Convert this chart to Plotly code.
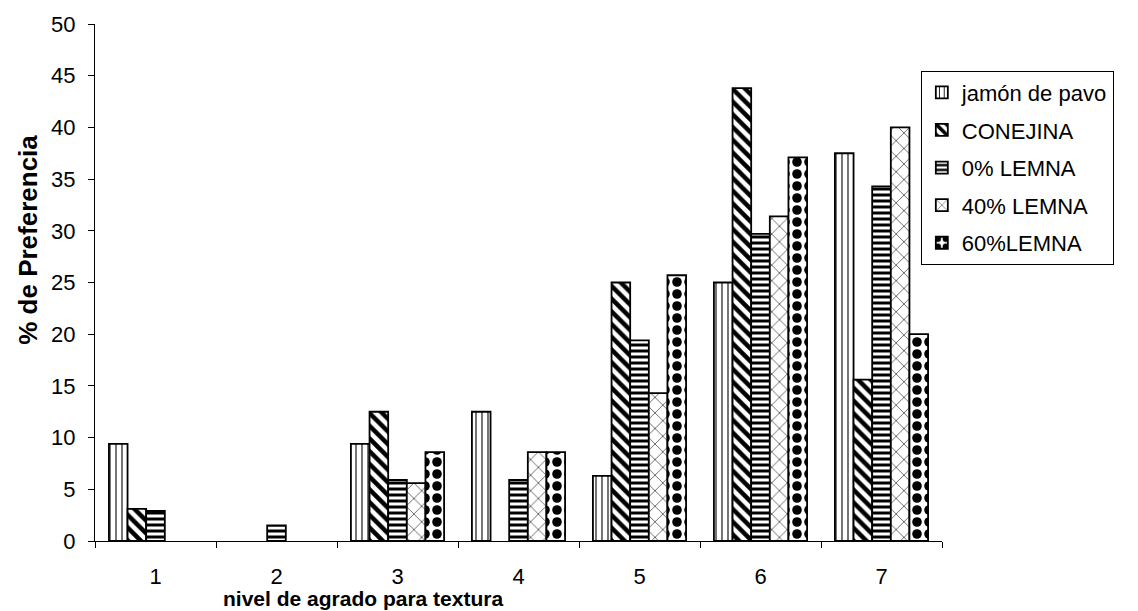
import plotly.graph_objects as go

categorias = ["1", "2", "3", "4", "5", "6", "7"]
series = ["jamón de pavo", "CONEJINA", "0% LEMNA", "40% LEMNA", "60%LEMNA"]
jamon = [9.4, 0, 9.4, 12.5, 6.3, 25.0, 37.5]
conejina = [3.1, 0, 12.5, 0, 25.0, 43.8, 15.6]
lemna0 = [2.9, 1.5, 5.9, 5.9, 19.4, 29.7, 34.3]
lemna40 = [0, 0, 5.6, 8.6, 14.3, 31.4, 40.0]
lemna60 = [0, 0, 8.6, 8.6, 25.7, 37.1, 20.0]
valores = [jamon, conejina, lemna0, lemna40, lemna60]

patrones = [
    dict(shape="|", size=6, solidity=0.18, fgcolor="black", bgcolor="white", fgopacity=1),
    dict(shape="\\", size=9, solidity=0.5, fgcolor="black", bgcolor="white", fgopacity=1),
    dict(shape="-", size=6, solidity=0.5, fgcolor="black", bgcolor="white", fgopacity=1),
    dict(shape="x", size=11, solidity=0.1, fgcolor="black", bgcolor="white", fgopacity=1),
    dict(shape=".", size=12, solidity=0.5, fgcolor="black", bgcolor="white", fgopacity=1),
]

fig = go.Figure()
for i, (nombre, vals) in enumerate(zip(series, valores)):
    fig.add_trace(go.Bar(
        x=categorias, y=[v if v else None for v in vals], name=nombre, legendgroup=str(i),
        marker=dict(color="white", line=dict(color="black", width=1.8),
                    pattern=patrones[i]),
    ))

fig.update_layout(
    width=1138, height=611,
    margin=dict(l=95, r=196, t=21, b=70),
    paper_bgcolor="white", plot_bgcolor="white",
    barmode="group", bargap=0.23, bargroupgap=0,
    font=dict(family="Liberation Sans, Arial", size=22, color="black"),
    showlegend=True,
    legend=dict(x=0.975, y=0.91, xanchor="left", yanchor="top",
                bordercolor="black", borderwidth=1, bgcolor="white",
                font=dict(size=22), tracegroupgap=6,
                itemwidth=30),
    xaxis=dict(type="category", showline=True, linecolor="black", linewidth=1,
               ticks="outside", tickson="boundaries", ticklen=6, tickcolor="black",
               showgrid=False, tickfont=dict(size=22), ticklabelstandoff=16),
    yaxis=dict(range=[0, 50], dtick=5, showline=True, linecolor="black", linewidth=1,
               ticks="outside", ticklen=6, tickcolor="black", showgrid=False,
               zeroline=False, tickfont=dict(size=22), ticklabelstandoff=8),
    annotations=[
        dict(text="<b>nivel de agrado para textura</b>", xref="paper", yref="paper",
             x=(363 - 95) / 847, y=-(599 - 541) / 520, xanchor="center", yanchor="middle",
             showarrow=False, font=dict(size=21)),
        dict(text="<b>% de Preferencia</b>", xref="paper", yref="paper",
             x=-(95 - 28) / 847, y=(541 - 238) / 520, xanchor="center", yanchor="middle",
             textangle=-90, showarrow=False, font=dict(size=26)),
    ],
)

fig.write_html("out.html")
